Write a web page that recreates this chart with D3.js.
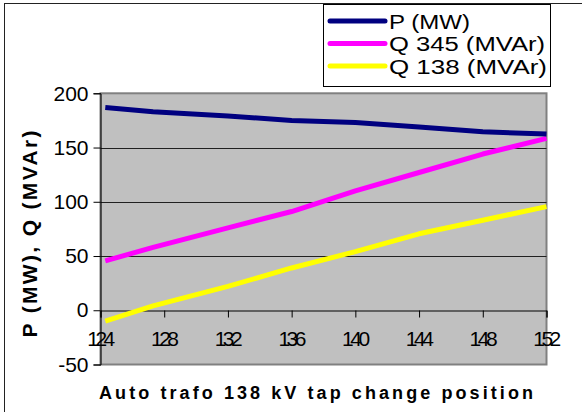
<!DOCTYPE html>
<html><head><meta charset="utf-8">
<script src="https://cdn.jsdelivr.net/npm/d3@7"></script>
<style>body{margin:0;background:#fff}svg{display:block;font-family:"Liberation Sans",Arial,sans-serif}</style>
</head><body><svg id="c" width="582" height="412"></svg>
<script>
const tapPositions = [124.3, 127.3, 132, 136, 140, 144, 148, 152];
const pMW = [187, 183, 179, 175, 173, 169, 164.5, 162.5];
const q345 = [45.5, 58, 76, 91, 110, 127, 144, 158.5];
const q138 = [-10, 4, 22, 39, 54, 70.5, 83, 95.5];
const seriesNames = ["P (MW)", "Q 345 (MVAr)", "Q 138 (MVAr)"];
const seriesColors = ["#000080", "#FF00FF", "#FFFF00"];
const xTicks = [124, 128, 132, 136, 140, 144, 148, 152];
const yTicks = [-50, 0, 50, 100, 150, 200];
const xTitle = "Auto trafo 138 kV tap change position";
const yTitle = "P (MW), Q (MVAr)";

const svg = d3.select("#c");
const L = 100.5, R = 546.5, T = 93.3, B = 364.5;
const x = d3.scaleLinear().domain([124, 152]).range([L, R]);
const y = d3.scaleLinear().domain([-50, 200]).range([B, T]);
const fmt = d => String(d);

// chart frame
svg.append("rect").attr("x", 4.5).attr("y", 3.5).attr("width", 620).attr("height", 430)
  .attr("fill", "#fff").attr("stroke", "#222").attr("stroke-width", 1);

// plot area
svg.append("rect").attr("x", L).attr("y", T).attr("width", R - L).attr("height", B - T)
  .attr("fill", "#C0C0C0").attr("stroke", "#808080").attr("stroke-width", 2);

// gridlines
svg.append("g").selectAll("line").data(yTicks.filter(d => d > 0 && d < 200)).join("line")
  .attr("x1", L).attr("x2", R).attr("y1", d => Math.round(y(d)) + 0.5).attr("y2", d => Math.round(y(d)) + 0.5)
  .attr("stroke", "#202020").attr("stroke-width", 1);

// y axis
const yAxis = d3.axisLeft(y).tickValues(yTicks).tickSize(7).tickPadding(5).tickFormat(fmt);
const gy = svg.append("g").attr("transform", `translate(${L},0)`).call(yAxis);
gy.select(".domain").attr("stroke", "#000");
gy.selectAll(".tick line").attr("stroke", "#000");
gy.selectAll("text").attr("font-size", 21).attr("fill", "#000").attr("font-family", "Liberation Sans, Arial");

// x axis at y=0
const xAxis = d3.axisBottom(x).tickValues(xTicks).tickSize(7).tickPadding(14).tickFormat(fmt);
const gx = svg.append("g").attr("transform", `translate(0,${Math.round(y(0)) + 0.5})`).call(xAxis);
gx.select(".domain").attr("stroke", "#000");
gx.selectAll(".tick line").attr("stroke", "#000");
gx.selectAll("text").attr("font-size", 21).attr("fill", "#000").attr("letter-spacing", "-3.5px")
  .attr("font-family", "Liberation Sans, Arial").attr("dx", "-1.5");

// lines
const series = [pMW, q345, q138];
const line = d3.line().x((d, i) => x(tapPositions[i])).y(d => y(d));
svg.append("g").selectAll("path").data(series.slice().reverse()).join("path")
  .attr("d", d => line(d)).attr("fill", "none")
  .attr("stroke", (d, i) => seriesColors[2 - i]).attr("stroke-width", 5)
  .attr("stroke-linejoin", "round").attr("stroke-linecap", "butt");

// axis titles
svg.append("text").attr("x", 99).attr("y", 399).attr("font-size", 18).attr("font-weight", "bold")
  .attr("textLength", 434).attr("lengthAdjust", "spacing").text(xTitle);
svg.append("text").attr("transform", "translate(37,234) rotate(-90)").attr("text-anchor", "middle")
  .attr("font-size", 21).attr("font-weight", "bold")
  .attr("textLength", 207).attr("lengthAdjust", "spacing").text(yTitle);

// legend
const lg = svg.append("g");
lg.append("rect").attr("x", 323.5).attr("y", 4.5).attr("width", 227).attr("height", 82)
  .attr("fill", "#fff").attr("stroke", "#000").attr("stroke-width", 1);
const lens = [81, 156, 158];
seriesNames.forEach((n, i) => {
  const cy = 21 + i * 22.5;
  lg.append("line").attr("x1", 330).attr("x2", 385).attr("y1", cy).attr("y2", cy)
    .attr("stroke", seriesColors[i]).attr("stroke-width", 5).attr("stroke-linecap", "round");
  lg.append("text").attr("x", 389).attr("y", cy + 7.5).attr("font-size", 20)
    .attr("textLength", lens[i]).attr("lengthAdjust", "spacingAndGlyphs").text(n);
});
</script></body></html>
